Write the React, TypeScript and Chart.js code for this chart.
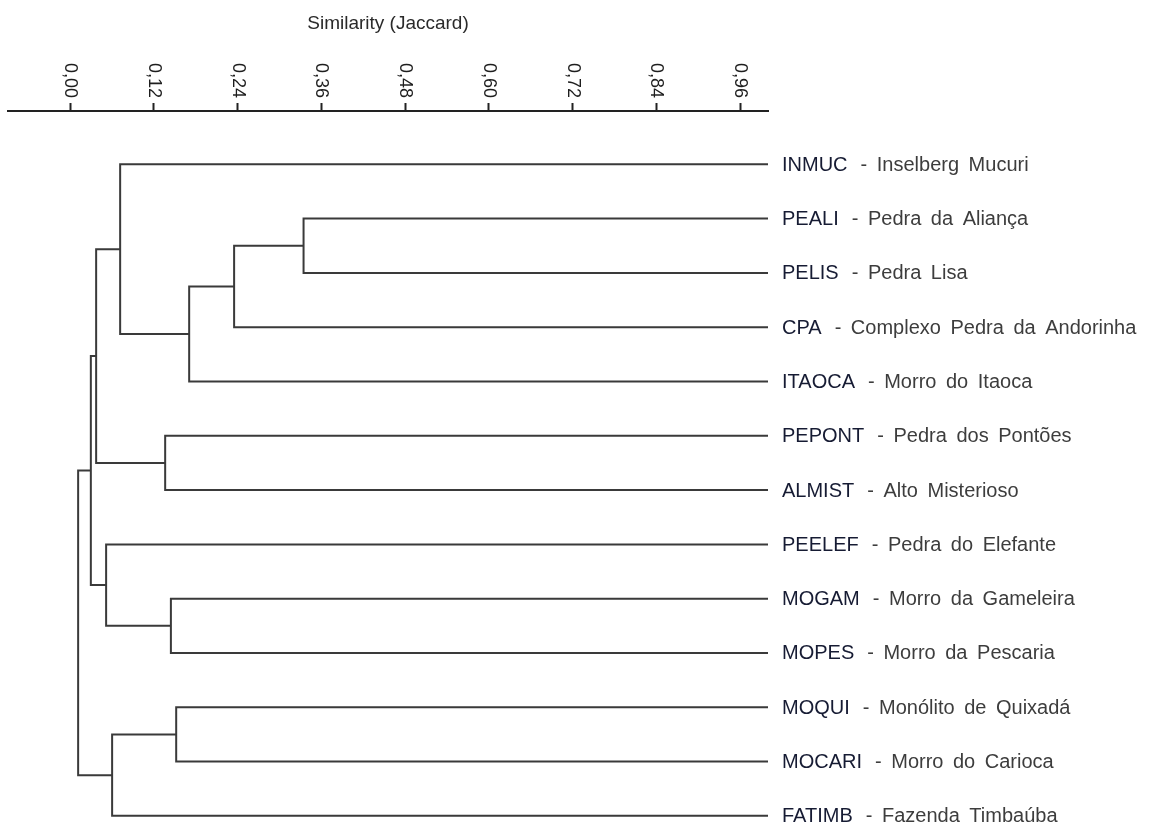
import React, { useEffect, useRef } from "react";
import { Chart, registerables } from "chart.js";

Chart.register(...registerables);

// Sampling sites, listed top to bottom in dendrogram order
const LEAF_CODES = [
  "INMUC", "PEALI", "PELIS", "CPA", "ITAOCA", "PEPONT", "ALMIST",
  "PEELEF", "MOGAM", "MOPES", "MOQUI", "MOCARI", "FATIMB",
];
const LEAF_NAMES = [
  "Inselberg Mucuri", "Pedra da Aliança", "Pedra Lisa",
  "Complexo Pedra da Andorinha", "Morro do Itaoca", "Pedra dos Pontões",
  "Alto Misterioso", "Pedra do Elefante", "Morro da Gameleira",
  "Morro da Pescaria", "Monólito de Quixadá", "Morro do Carioca",
  "Fazenda Timbaúba",
];

// Agglomeration steps: ids < 13 are sites, id 13 + k is the cluster made at step k
const MERGE_LEFT = [1, 13, 14, 0, 5, 16, 8, 7, 18, 10, 22, 21];
const MERGE_RIGHT = [2, 3, 4, 15, 6, 17, 9, 19, 20, 11, 12, 23];
const MERGE_SIMILARITY = [
  0.3345, 0.235, 0.1706, 0.0717, 0.1362, 0.0373,
  0.1444, 0.0516, 0.0297, 0.152, 0.0602, 0.0115,
];

// Similarity axis
const SIM_TICKS = [0, 0.12, 0.24, 0.36, 0.48, 0.6, 0.72, 0.84, 0.96];
const SIM_TICK_LABELS = ["0,00", "0,12", "0,24", "0,36", "0,48", "0,60", "0,72", "0,84", "0,96"];
const AXIS_TITLE = "Similarity (Jaccard)";

const LINE_COLOR = "#3a3a3a";
const FONT = "'Liberation Sans', Arial, sans-serif";

function buildBranches() {
  const n = LEAF_CODES.length;
  const pos: number[] = LEAF_CODES.map((_, i) => i);
  const sim: number[] = LEAF_CODES.map(() => 1);
  const branches: { x: number; y: number }[][] = [];
  MERGE_SIMILARITY.forEach((s, k) => {
    const a = MERGE_LEFT[k];
    const b = MERGE_RIGHT[k];
    branches.push([
      { x: sim[a], y: pos[a] },
      { x: s, y: pos[a] },
      { x: s, y: pos[b] },
      { x: sim[b], y: pos[b] },
    ]);
    pos[n + k] = (pos[a] + pos[b]) / 2;
    sim[n + k] = s;
  });
  return branches;
}

const textPlugin = {
  id: "dendroText",
  afterDraw(chart: any) {
    const ctx = chart.ctx as CanvasRenderingContext2D;
    const xs = chart.scales.x;
    const ys = chart.scales.y;
    ctx.save();

    // axis title
    ctx.fillStyle = "#2a2a2a";
    ctx.font = `19px ${FONT}`;
    ctx.textAlign = "center";
    ctx.textBaseline = "middle";
    ctx.fillText(AXIS_TITLE, (xs.left + xs.right) / 2, 24);

    // rotated tick labels
    ctx.font = `18px ${FONT}`;
    ctx.fillStyle = "#1e1e1e";
    SIM_TICKS.forEach((v, i) => {
      const px = xs.getPixelForValue(v);
      ctx.save();
      ctx.translate(px, xs.bottom - 13);
      ctx.rotate(Math.PI / 2);
      ctx.textAlign = "right";
      ctx.textBaseline = "middle";
      ctx.fillText(SIM_TICK_LABELS[i], 0, 0);
      ctx.restore();
    });

    // site labels
    const x0 = xs.right + 14;
    ctx.textAlign = "left";
    ctx.textBaseline = "middle";
    ctx.font = `20px ${FONT}`;
    (ctx as any).wordSpacing = "4px";
    LEAF_CODES.forEach((code, i) => {
      const py = ys.getPixelForValue(i) + 1;
      ctx.fillStyle = "#161b33";
      ctx.fillText(code, x0, py);
      const w = ctx.measureText(code).width;
      ctx.fillStyle = "#3d3d3d";
      ctx.fillText("- " + LEAF_NAMES[i], x0 + w + 13, py);
    });
    ctx.restore();
  },
};

export default function App() {
  const canvasRef = useRef<HTMLCanvasElement | null>(null);

  useEffect(() => {
    if (!canvasRef.current) return;
    const branches = buildBranches();
    const chart = new Chart(canvasRef.current, {
      type: "scatter",
      data: {
        datasets: branches.map((pts) => ({
          data: pts,
          showLine: true,
          borderColor: LINE_COLOR,
          borderWidth: 2,
          pointRadius: 0,
          tension: 0,
          fill: false,
        })),
      },
      options: {
        animation: false,
        responsive: true,
        maintainAspectRatio: false,
        layout: { padding: { left: 8, right: 385, top: 0, bottom: 0 } },
        plugins: {
          legend: { display: false },
          tooltip: { enabled: false },
          title: { display: false },
        },
        scales: {
          x: {
            type: "linear",
            position: "top",
            min: -0.089,
            max: 1.0,
            afterBuildTicks: (scale: any) => {
              scale.ticks = SIM_TICKS.map((v) => ({ value: v }));
            },
            afterFit: (scale: any) => {
              scale.height = 111;
            },
            ticks: { display: false },
            grid: {
              display: true,
              drawOnChartArea: false,
              drawTicks: true,
              tickLength: 8,
              tickWidth: 2,
              tickColor: "#222",
            },
            border: { display: true, color: "#222", width: 2 },
          },
          y: {
            type: "linear",
            display: false,
            reverse: true,
            min: -0.982,
            max: 12.15,
          },
        },
      },
      plugins: [textPlugin],
    });
    return () => chart.destroy();
  }, []);

  return (
    <div style={{ position: "absolute", left: 0, top: 0, width: 1153, height: 824, background: "#fff" }}>
      <canvas ref={canvasRef} />
    </div>
  );
}
